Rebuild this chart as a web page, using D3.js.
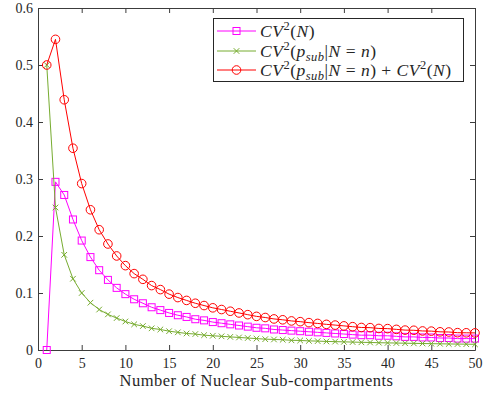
<!DOCTYPE html>
<html>
<head>
<meta charset="utf-8">
<script src="https://cdn.jsdelivr.net/npm/d3@7"></script>
<style>
  html, body { margin: 0; padding: 0; background: #fff; }
  svg { display: block; }
  text { font-family: "Liberation Serif", "DejaVu Serif", serif; fill: #262626; }
</style>
</head>
<body>
<svg id="chart" width="485" height="396"></svg>
<script>
// Number of nuclear sub-compartments
const nValues = d3.range(1, 51);

// CV^2(N)
const cvN = [
  0, 0.295, 0.272, 0.229, 0.192, 0.163, 0.140, 0.123, 0.109, 0.098,
  0.089, 0.082, 0.075, 0.070, 0.065, 0.061, 0.058, 0.054, 0.052, 0.049,
  0.047, 0.045, 0.043, 0.041, 0.039, 0.038, 0.036, 0.035, 0.034, 0.033,
  0.032, 0.031, 0.030, 0.029, 0.028, 0.027, 0.026, 0.026, 0.025, 0.025,
  0.024, 0.023, 0.023, 0.022, 0.022, 0.021, 0.021, 0.020, 0.020, 0.020
];

// CV^2(p_sub | N = n)
const cvPsub = [
  0.5, 0.25, 0.167, 0.125, 0.1, 0.083, 0.071, 0.0625, 0.056, 0.05,
  0.045, 0.042, 0.038, 0.036, 0.033, 0.031, 0.029, 0.028, 0.026, 0.025,
  0.024, 0.023, 0.022, 0.021, 0.020, 0.019, 0.0185, 0.018, 0.017, 0.0167,
  0.016, 0.0156, 0.015, 0.0147, 0.0143, 0.0139, 0.0135, 0.0132, 0.0128, 0.0125,
  0.0122, 0.0119, 0.0116, 0.0114, 0.0111, 0.0109, 0.0106, 0.0104, 0.0102, 0.01
];

// CV^2(p_sub | N = n) + CV^2(N)
const cvTotal = [
  0.5, 0.545, 0.439, 0.354, 0.292, 0.246, 0.211, 0.186, 0.165, 0.148,
  0.134, 0.124, 0.113, 0.106, 0.098, 0.092, 0.087, 0.082, 0.078, 0.074,
  0.071, 0.068, 0.065, 0.062, 0.059, 0.057, 0.0545, 0.053, 0.051, 0.0497,
  0.048, 0.0466, 0.045, 0.0437, 0.0423, 0.0409, 0.0395, 0.0392, 0.0378, 0.0375,
  0.0362, 0.0349, 0.0346, 0.0334, 0.0331, 0.0319, 0.0316, 0.0304, 0.0302, 0.030
];

const xTicks = [0, 5, 10, 15, 20, 25, 30, 35, 40, 45, 50];
const yTicks = [0, 0.1, 0.2, 0.3, 0.4, 0.5, 0.6];
const xLabel = "Number of Nuclear Sub-compartments";

const svg = d3.select("#chart");
const margin = { left: 38, right: 10, top: 8, bottom: 46 };
const W = 485, H = 396;
const x = d3.scaleLinear().domain([0, 50]).range([margin.left, W - margin.right]);
const y = d3.scaleLinear().domain([0, 0.6]).range([H - margin.bottom, margin.top]);

const axisColor = "#3c3c3c";
const tickLen = 5;

// Axes (ticks pointing inward on all four sides)
function styleAxis(g) {
  g.select(".domain").attr("stroke", axisColor).attr("stroke-width", 1);
  g.selectAll(".tick line").attr("stroke", axisColor).attr("stroke-width", 1);
  g.selectAll(".tick text")
    .style("font-family", "'Liberation Serif', serif")
    .style("font-size", "14px")
    .attr("fill", "#262626");
}

svg.append("g")
  .attr("transform", `translate(0,${y(0)})`)
  .call(d3.axisBottom(x).tickValues(xTicks).tickFormat(d3.format("d"))
    .tickSizeInner(-tickLen).tickSizeOuter(0).tickPadding(8))
  .call(styleAxis);

svg.append("g")
  .attr("transform", `translate(${x(0)},0)`)
  .call(d3.axisLeft(y).tickValues(yTicks).tickFormat(d => d === 0 ? "0" : d3.format(".1f")(d))
    .tickSizeInner(-tickLen).tickSizeOuter(0).tickPadding(5))
  .call(styleAxis);

svg.append("g")
  .attr("transform", `translate(0,${y(0.6)})`)
  .call(d3.axisTop(x).tickValues(xTicks).tickFormat("")
    .tickSizeInner(-tickLen).tickSizeOuter(0))
  .call(styleAxis);

svg.append("g")
  .attr("transform", `translate(${x(50)},0)`)
  .call(d3.axisRight(y).tickValues(yTicks).tickFormat("")
    .tickSizeInner(-tickLen).tickSizeOuter(0))
  .call(styleAxis);

// x-axis title
svg.append("text")
  .attr("x", (x(0) + x(50)) / 2)
  .attr("y", 386)
  .attr("text-anchor", "middle")
  .style("font-size", "16.5px")
  .style("letter-spacing", "0.5px")
  .text(xLabel);

// Series definitions
const series = [
  { values: cvN, color: "#ff00ff", marker: "square" },
  { values: cvPsub, color: "#77ac30", marker: "cross" },
  { values: cvTotal, color: "#ff0000", marker: "circle" }
];

const line = d3.line().x(d => x(d[0])).y(d => y(d[1]));

function drawMarker(g, type, cx, cy, color) {
  if (type === "square") {
    g.append("rect").attr("x", cx - 3.5).attr("y", cy - 3.5)
      .attr("width", 7).attr("height", 7)
      .attr("fill", "none").attr("stroke", color).attr("stroke-width", 1);
  } else if (type === "circle") {
    g.append("circle").attr("cx", cx).attr("cy", cy).attr("r", 4.3)
      .attr("fill", "none").attr("stroke", color).attr("stroke-width", 1);
  } else {
    const s = 2.8;
    g.append("path")
      .attr("d", `M${cx - s},${cy - s}L${cx + s},${cy + s}M${cx - s},${cy + s}L${cx + s},${cy - s}`)
      .attr("stroke", color).attr("stroke-width", 1).attr("fill", "none");
  }
}

series.forEach(s => {
  const pts = nValues.map((n, i) => [n, s.values[i]]);
  const g = svg.append("g");
  g.append("path").attr("d", line(pts))
    .attr("fill", "none").attr("stroke", s.color).attr("stroke-width", 1);
  pts.forEach(p => drawMarker(g, s.marker, x(p[0]), y(p[1]), s.color));
});

// Legend
const legend = svg.append("g");
legend.append("rect")
  .attr("x", 213.5).attr("y", 18.5).attr("width", 250).attr("height", 63)
  .attr("fill", "#fff").attr("stroke", "#262626").attr("stroke-width", 1);

const rowsY = [31, 51, 70];
const lx0 = 217, lx1 = 256, tx = 260;

series.forEach((s, i) => {
  const cy = rowsY[i];
  legend.append("line").attr("x1", lx0).attr("x2", lx1).attr("y1", cy).attr("y2", cy)
    .attr("stroke", s.color).attr("stroke-width", 1);
  drawMarker(legend, s.marker, (lx0 + lx1) / 2, cy, s.color);
});

// Legend entries written as math-style text segments
function mathText(parent, xPos, yPos, parts) {
  const t = parent.append("text").attr("x", xPos).attr("y", yPos + 5.5)
    .style("font-size", "17.5px")
    .style("letter-spacing", "0.5px");
  parts.forEach(p => {
    const ts = t.append("tspan").text(p.t);
    if (p.i) ts.style("font-style", "italic");
    if (p.sup) ts.attr("dy", -7).style("font-size", "12.5px");
    if (p.sub) ts.attr("dy", 4).style("font-size", "12.5px");
    if (p.back) ts.attr("dy", p.back);
  });
}

const cv2 = [{ t: "CV", i: true }, { t: "2", sup: true }, { t: "(", back: 7 }];
mathText(legend, tx, rowsY[0], [...cv2, { t: "N", i: true }, { t: ")" }]);
mathText(legend, tx, rowsY[1], [...cv2, { t: "p", i: true }, { t: "sub", i: true, sub: true },
  { t: "|", back: -4 }, { t: "N", i: true }, { t: " = " }, { t: "n", i: true }, { t: ")" }]);
mathText(legend, tx, rowsY[2], [...cv2, { t: "p", i: true }, { t: "sub", i: true, sub: true },
  { t: "|", back: -4 }, { t: "N", i: true }, { t: " = " }, { t: "n", i: true }, { t: ") + " },
  { t: "CV", i: true }, { t: "2", sup: true }, { t: "(", back: 7 }, { t: "N", i: true }, { t: ")" }]);
</script>
</body>
</html>
